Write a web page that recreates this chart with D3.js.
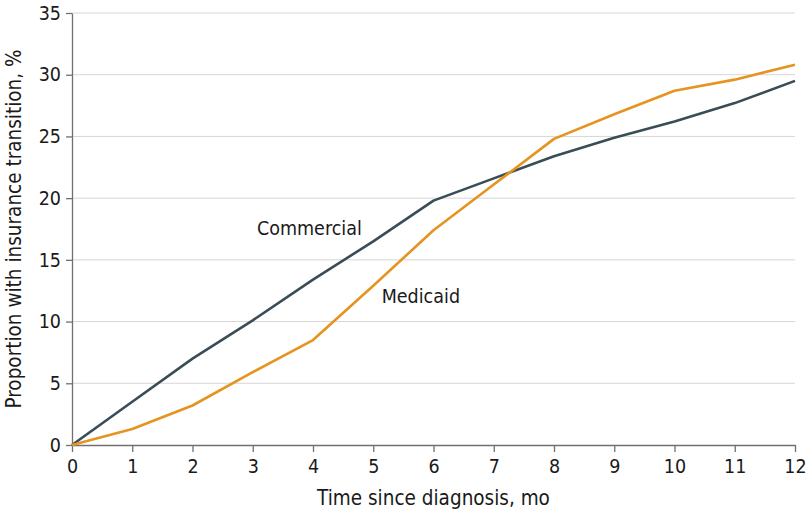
<!DOCTYPE html>
<html>
<head>
<meta charset="utf-8">
<script src="https://cdn.jsdelivr.net/npm/d3@7"></script>
<style>
  body { margin: 0; background: #fff; }
  text { font-family: "DejaVu Sans Condensed", "Liberation Sans Narrow", sans-serif; fill: #1a1a1a; }
</style>
</head>
<body>
<script>
const width = 810;
const height = 518;

// data
const months = [0, 1, 2, 3, 4, 5, 6, 7, 8, 9, 10, 11, 12];
const commercial = [0, 3.5, 7.0, 10.1, 13.4, 16.5, 19.8, 21.6, 23.4, 24.9, 26.2, 27.7, 29.5];
const medicaid = [0, 1.3, 3.2, 5.9, 8.5, 12.9, 17.4, 21.1, 24.8, 26.8, 28.7, 29.6, 30.8];
const yTicks = [0, 5, 10, 15, 20, 25, 30, 35];

const margin = {top: 13, right: 15, bottom: 73, left: 72};

const svg = d3.select("body").append("svg")
    .attr("width", width)
    .attr("height", height);

const x = d3.scaleLinear().domain([0, 12]).range([margin.left, width - margin.right]);
const y = d3.scaleLinear().domain([0, 35]).range([height - margin.bottom, margin.top]);

// gridlines
svg.append("g")
    .selectAll("line")
    .data(yTicks.filter(d => d > 0))
    .enter().append("line")
    .attr("x1", x(0))
    .attr("x2", x(12))
    .attr("y1", d => y(d))
    .attr("y2", d => y(d))
    .attr("stroke", "#d6d6d6")
    .attr("stroke-width", 1);

// axes
const xAxis = svg.append("g")
    .attr("transform", `translate(0,${y(0)})`)
    .call(d3.axisBottom(x).tickValues(months).tickSize(7).tickPadding(7).tickSizeOuter(0));

const yAxis = svg.append("g")
    .attr("transform", `translate(${x(0)},0)`)
    .call(d3.axisLeft(y).tickValues(yTicks).tickSize(6).tickPadding(5).tickSizeOuter(0));

[xAxis, yAxis].forEach(g => {
    g.select(".domain").attr("stroke", "#707070").attr("stroke-width", 1.3);
    g.selectAll(".tick line").attr("stroke", "#707070").attr("stroke-width", 1.3);
    g.selectAll(".tick text")
        .attr("font-size", 19.5)
        .attr("font-family", "DejaVu Sans Condensed, Liberation Sans Narrow, sans-serif")
        .attr("fill", "#1a1a1a");
});

// lines
const line = d3.line()
    .x((d, i) => x(months[i]))
    .y(d => y(d));

svg.append("path")
    .datum(commercial)
    .attr("fill", "none")
    .attr("stroke", "#3a4d57")
    .attr("stroke-width", 2.6)
    .attr("stroke-linejoin", "round")
    .attr("d", line);

svg.append("path")
    .datum(medicaid)
    .attr("fill", "none")
    .attr("stroke", "#e59420")
    .attr("stroke-width", 2.6)
    .attr("stroke-linejoin", "round")
    .attr("d", line);

// series labels
svg.append("text")
    .attr("x", x(3.07))
    .attr("y", y(17.05))
    .attr("font-size", 19.5)
    .text("Commercial");

svg.append("text")
    .attr("x", x(5.14))
    .attr("y", y(11.5))
    .attr("font-size", 19.5)
    .text("Medicaid");

// axis titles
svg.append("text")
    .attr("x", (x(0) + x(12)) / 2)
    .attr("y", 505)
    .attr("text-anchor", "middle")
    .attr("font-size", 20.5)
    .text("Time since diagnosis, mo");

svg.append("text")
    .attr("transform", `translate(21,${(y(0) + y(35)) / 2}) rotate(-90)`)
    .attr("text-anchor", "middle")
    .attr("font-size", 20.5)
    .text("Proportion with insurance transition, %");
</script>
</body>
</html>
